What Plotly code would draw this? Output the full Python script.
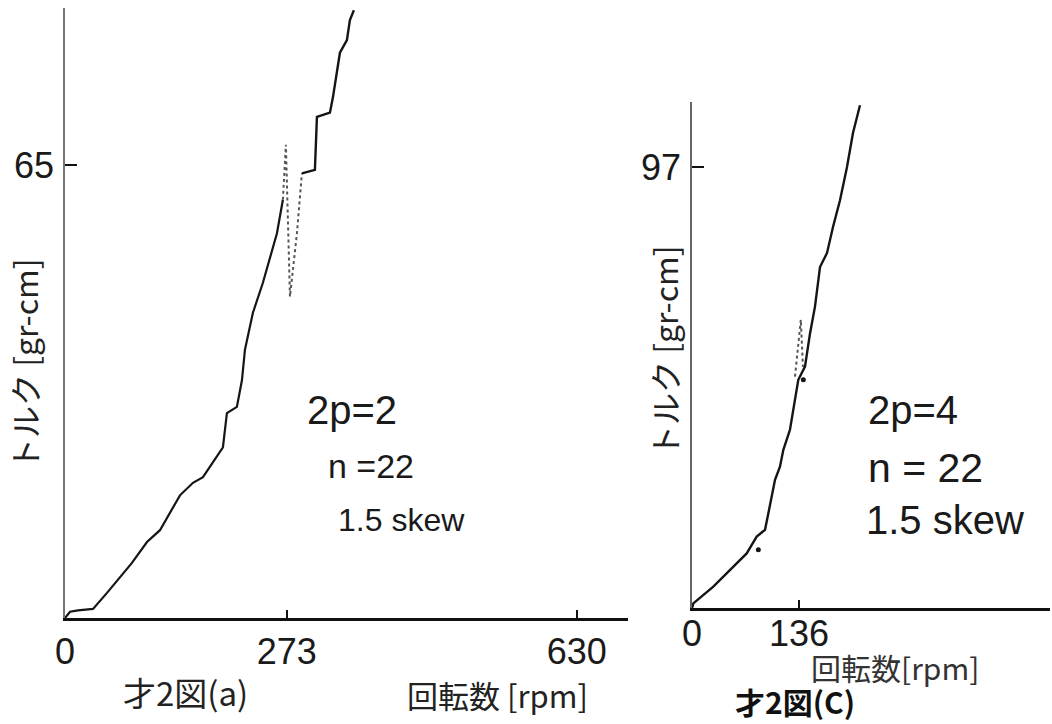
import plotly.graph_objects as go

W, H = 1052, 724

# ---- Data: panel (a) 2p=2 ----
a_x1 = [0, 6.2, 16, 34.5, 51.7, 65.2, 82.4, 100.9, 116.9, 141.5, 157.5, 169.8, 187.0, 194.4,
        199.3, 211.6, 217.8, 221.5, 231.3, 243.6, 260.9, 268.2]
a_y1 = [0, 0.9, 1.1, 1.3, 3.6, 5.5, 7.9, 10.9, 12.6, 17.6, 19.4, 20.2, 23.1, 24.5,
        29.4, 30.3, 34.1, 38.5, 43.8, 48.1, 55.2, 60.0]
a_xs = [268.2, 271.9, 276.9, 285.5, 291.6]
a_ys = [60.0, 67.9, 46.1, 55.2, 63.8]
a_x2 = [291.6, 307.6, 310.1, 326.1, 329.8, 338.4, 347.0, 350.7, 355.6]
a_y2 = [63.8, 64.3, 71.9, 72.5, 74.7, 81.1, 82.9, 85.8, 87.2]
a_xticks = [0, 273, 630]
a_yticks = [65]

# ---- Data: panel (c) 2p=4 ----
c_x = [0, 1.7, 27.1, 52.5, 69.5, 82.2, 92.8, 97.0, 101.3, 105.5, 111.8, 116.1, 124.5, 130.9,
       135.1, 143.6, 150.0, 156.3, 162.7, 171.6, 179.2, 188.1, 197.0, 204.6, 213.5]
c_y = [0, 1.0, 4.7, 9.1, 12.0, 15.7, 17.2, 20.8, 24.5, 28.2, 31.1, 34.8, 39.2, 45.8,
       50.2, 53.1, 60.4, 66.3, 75.0, 78.1, 83.8, 89.7, 97.0, 104.5, 110.6]
c_xs = [130.9, 138.3, 141.0]
c_ys = [50.9, 63.4, 53.0]
c_dx = [84.3, 141.5]
c_dy = [12.8, 50.2]
c_xticks = [0, 136]
c_yticks = [97]


def px(x):
    return x / W


def py(y):
    return 1 - y / H


LINE = "#151515"
NUM_FONT = dict(family="Liberation Sans, Arial, sans-serif", size=36, color="#1a1a1a")
TXT = "Liberation Sans, Arial, sans-serif"
JP = "Noto Sans CJK JP"

fig = go.Figure()

fig.add_trace(go.Scatter(x=a_x1, y=a_y1, mode="lines", line=dict(color=LINE, width=2.2), xaxis="x", yaxis="y"))
fig.add_trace(go.Scatter(x=a_xs, y=a_ys, mode="lines", line=dict(color="#555", width=2, dash="dot"), xaxis="x", yaxis="y"))
fig.add_trace(go.Scatter(x=a_x2, y=a_y2, mode="lines", line=dict(color=LINE, width=2.4), xaxis="x", yaxis="y"))

fig.add_trace(go.Scatter(x=c_x, y=c_y, mode="lines", line=dict(color=LINE, width=2.4), xaxis="x2", yaxis="y2"))
fig.add_trace(go.Scatter(x=c_xs, y=c_ys, mode="lines", line=dict(color="#555", width=2, dash="dot"), xaxis="x2", yaxis="y2"))
fig.add_trace(go.Scatter(x=c_dx, y=c_dy, mode="markers", marker=dict(color=LINE, size=5), xaxis="x2", yaxis="y2"))

ax_common = dict(showgrid=False, zeroline=False, showline=True, ticks="inside", automargin=False,
                 tickcolor="#111", tickfont=NUM_FONT, fixedrange=True)

fig.update_layout(
    template="none",
    width=W, height=H,
    margin=dict(l=0, r=0, t=0, b=0, pad=0),
    paper_bgcolor="white", plot_bgcolor="white",
    showlegend=False,
    xaxis=dict(domain=[px(65), px(628)], range=[0, 693], anchor="y",
               tickvals=a_xticks, ticktext=[str(v) for v in a_xticks],
               linecolor="#111", linewidth=3, ticklen=8, tickwidth=2,
               ticklabelstandoff=0, **ax_common),
    yaxis=dict(domain=[py(618), py(8)], range=[0, (618 - 8) / 6.97], anchor="x",
               tickvals=a_yticks, ticktext=[str(v) for v in a_yticks],
               linecolor="#777", linewidth=1.5, ticklen=12, tickwidth=2,
               ticklabelstandoff=2, **ax_common),
    xaxis2=dict(domain=[px(692), px(1050)], range=[0, 455], anchor="y2",
                tickvals=c_xticks, ticktext=[str(v) for v in c_xticks],
                linecolor="#111", linewidth=3, ticklen=8, tickwidth=2,
                ticklabelstandoff=-8, **ax_common),
    yaxis2=dict(domain=[py(608), py(102)], range=[0, (608 - 102) / 4.546], anchor="x2",
                tickvals=c_yticks, ticktext=[str(v) for v in c_yticks],
                linecolor="#666", linewidth=1.5, ticklen=12, tickwidth=2,
                ticklabelstandoff=2, **ax_common),
)

annots = [
    # y titles
    dict(text="トルク [gr-cm]", x=px(24), y=py(365), textangle=-90, font=dict(family=JP, size=32, color="#222")),
    dict(text="トルク [gr-cm]", x=px(664), y=py(352), textangle=-90, font=dict(family=JP, size=32, color="#222")),
    # x titles & captions
    dict(text="回転数 [rpm]", x=px(497), y=py(694), font=dict(family=JP, size=31, color="#222")),
    dict(text="才2図(a)", x=px(185), y=py(692), font=dict(family=JP, size=33, color="#222")),
    dict(text="回転数[rpm]", x=px(895), y=py(667), font=dict(family=JP, size=30, color="#333")),
    dict(text="<b>才2図(C)</b>", x=px(795), y=py(701), font=dict(family=JP, size=30, color="#111")),
    # panel labels
    dict(text="2p=2", x=px(305), y=py(410), xanchor="left", font=dict(family=TXT, size=40, color="#1a1a1a")),
    dict(text="n =22", x=px(326), y=py(466), xanchor="left", font=dict(family=TXT, size=34, color="#1a1a1a")),
    dict(text="1.5 skew", x=px(336), y=py(520), xanchor="left", font=dict(family=TXT, size=32, color="#1a1a1a")),
    dict(text="2p=4", x=px(866), y=py(410), xanchor="left", font=dict(family=TXT, size=40, color="#1a1a1a")),
    dict(text="n = 22", x=px(866), y=py(468), xanchor="left", font=dict(family=TXT, size=41, color="#1a1a1a")),
    dict(text="1.5 skew", x=px(864), y=py(520), xanchor="left", font=dict(family=TXT, size=40, color="#1a1a1a")),
]
for a in annots:
    a.setdefault("xanchor", "center")
    a.update(xref="paper", yref="paper", yanchor="middle", showarrow=False)
    fig.add_annotation(**a)

fig.write_html("out.html", config={"displayModeBar": False},
               post_script="document.body.style.margin='0';document.body.style.overflow='hidden';")
